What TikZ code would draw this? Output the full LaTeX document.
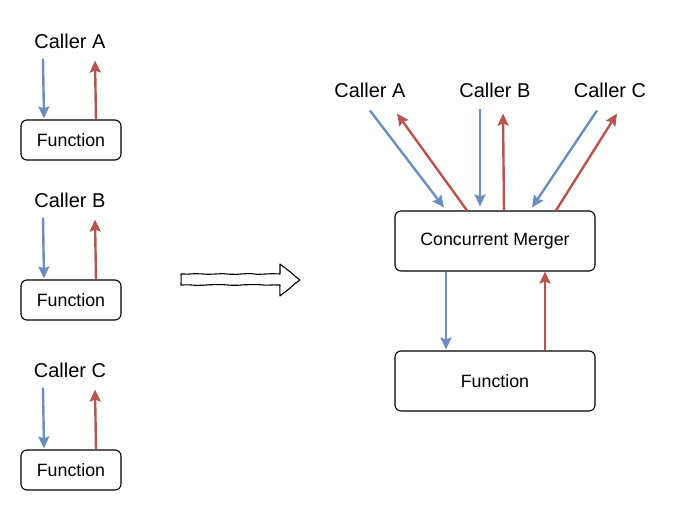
\documentclass[tikz,border=0pt]{standalone}
\usepackage{fontspec}
\setmainfont{Liberation Sans}
\usetikzlibrary{arrows.meta,decorations.pathmorphing}
\definecolor{cblue}{HTML}{6C8EBF}
\definecolor{cred}{HTML}{B85450}
\tikzset{
  sketch/.style={decorate,decoration={random steps,segment length=7pt,amplitude=0.4pt}},
  callerlbl/.style={inner sep=0pt,font=\fontsize{20}{24}\selectfont},
  fnbox/.style={draw,line width=1.1pt,rounded corners=6pt,inner sep=0pt,font=\fontsize{17.8}{21}\selectfont},
  tipstyle/.style={-{Stealth[length=12pt,width=11pt,inset=2pt]}},
  callarr/.style={draw=cblue,line width=2.4pt,tipstyle},
  retarr/.style={draw=cred,line width=2.4pt,tipstyle},
}
\begin{document}
\begin{tikzpicture}[x=1pt,y=-1pt]
\useasboundingbox (0,0) rectangle (681,511);
% left column
\node[callerlbl] (cA) at (70,41) {Caller A};
\node[callerlbl] (cB) at (70,200) {Caller B};
\node[callerlbl] (cC) at (70,370) {Caller C};
\node[fnbox,minimum width=100pt,minimum height=40pt] (f1) at (71,140) {Function};
\node[fnbox,minimum width=100pt,minimum height=40pt] (f2) at (71,300) {Function};
\node[fnbox,minimum width=100pt,minimum height=40pt] (f3) at (71,470) {Function};
\foreach \c/\f in {cA/f1,cB/f2,cC/f3}{
  \draw[callarr] ([xshift=-27pt,yshift=-10pt]\c.south) -- ([xshift=-27pt,yshift=1pt]\f.north);
  \draw[retarr] ([xshift=25pt]\f.north) -- ([xshift=25pt,yshift=-12pt]\c.south);
}
% big arrow
\draw[line width=1.1pt,sketch,line join=round] (181,274) -- (280,274) -- (280,264) -- (300,280) -- (280,296) -- (280,285) -- (181,285) -- cycle;
% right side
\node[callerlbl] (rA) at (370,90) {Caller A};
\node[callerlbl] (rB) at (495,90) {Caller B};
\node[callerlbl] (rC) at (610,90) {Caller C};
\node[fnbox,minimum width=200pt,minimum height=60pt] (m) at (495,241) {Concurrent Merger};
\node[fnbox,minimum width=200pt,minimum height=60pt] (fn) at (495,381) {Function};
\draw[callarr] ([yshift=-13pt]rA.south) -- ([xshift=-51pt,yshift=3pt]m.north);
\draw[retarr] ([xshift=-28pt]m.north) -- ([xshift=27pt,yshift=-16pt]rA.south);
\draw[callarr] ([xshift=-15pt,yshift=-11pt]rB.south) -- ([xshift=-15pt,yshift=4pt]m.north);
\draw[retarr] ([xshift=9pt]m.north) -- ([xshift=8pt,yshift=-16pt]rB.south);
\draw[callarr] ([xshift=-13pt,yshift=-13pt]rC.south) -- ([xshift=37pt,yshift=3pt]m.north);
\draw[retarr] ([xshift=61pt]m.north) -- ([xshift=7pt,yshift=-16pt]rC.south);
\draw[callarr] ([xshift=-49pt]m.south) -- ([xshift=-49pt,yshift=1pt]fn.north);
\draw[retarr] ([xshift=50pt]fn.north) -- ([xshift=50pt]m.south);
\end{tikzpicture}
\end{document}
